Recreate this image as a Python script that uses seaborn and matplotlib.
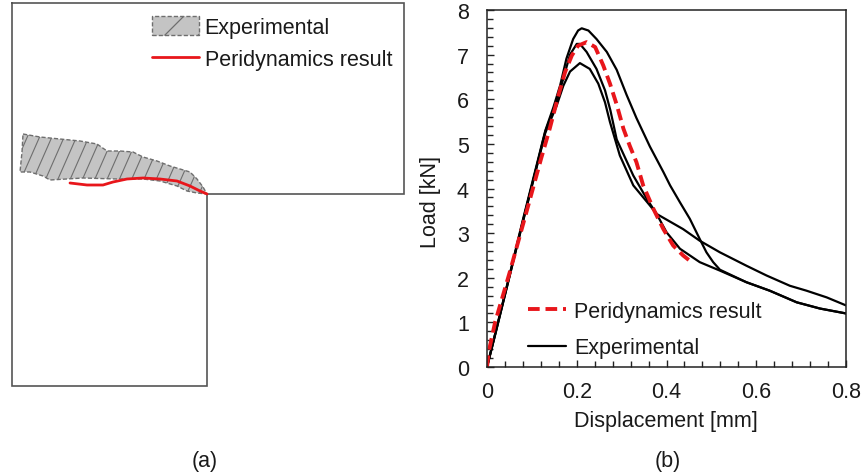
import numpy as np
import pandas as pd
import matplotlib
matplotlib.use("Agg")
import matplotlib.pyplot as plt
from matplotlib.patches import Patch, Polygon
from matplotlib.lines import Line2D
from matplotlib.ticker import MultipleLocator, FuncFormatter
import seaborn as sns

# ---------------- data: panel (b) load-displacement ----------------
exp_a_disp = [0, .02, .05, .08, .11, .13, .148, .163, .177, .192, .203, .211, .226, .244,
              .267, .289, .311, .333, .363, .393, .408, .43, .452, .474, .489, .504, .519,
              .578, .63, .69, .742, .8]
exp_a_load = [0, .82, 2.05, 3.3, 4.5, 5.3, 5.82, 6.31, 6.91, 7.35, 7.54, 7.59, 7.54, 7.35,
              7.06, 6.66, 6.1, 5.58, 4.94, 4.37, 4.07, 3.69, 3.32, 2.87, 2.57, 2.35, 2.18,
              1.9, 1.71, 1.45, 1.31, 1.2]

exp_b_disp = [0, .02, .05, .08, .11, .13, .155, .17, .185, .2, .207, .222, .244, .263,
              .275, .289, .326, .356, .378, .4, .43, .474, .519, .578, .63, .69, .742, .8]
exp_b_load = [0, .8, 2.03, 3.27, 4.47, 5.28, 5.95, 6.46, 7.0, 7.24, 7.24, 7.06, 6.68, 6.2,
              5.75, 5.1, 4.29, 3.77, 3.43, 3.02, 2.65, 2.35, 2.16, 1.9, 1.71, 1.45, 1.31, 1.2]

exp_c_disp = [0, .02, .05, .08, .11, .13, .155, .17, .185, .207, .229, .248, .263, .274,
              .296, .326, .363, .378, .437, .474, .519, .578, .623, .675, .712, .757, .8]
exp_c_load = [0, .8, 2.02, 3.25, 4.45, 5.25, 5.85, 6.3, 6.62, 6.81, 6.68, 6.35, 5.93, 5.49,
              4.74, 4.07, 3.62, 3.43, 3.09, 2.83, 2.57, 2.27, 2.05, 1.82, 1.71, 1.56, 1.38]

pd_disp = [0, .004, .018, .05, .09, .12, .14, .159, .174, .189, .203, .222, .241, .259,
           .274, .289, .304, .318, .333, .348, .371, .393, .415, .437, .452, .456]
pd_load = [0, .35, 1.0, 2.1, 3.55, 4.65, 5.35, 6.08, 6.61, 6.98, 7.2, 7.28, 7.17, 6.76,
           6.35, 5.88, 5.34, 4.96, 4.59, 4.07, 3.54, 3.09, 2.72, 2.5, 2.38, 2.33]

x_ticks = [0, 0.2, 0.4, 0.6, 0.8]
y_ticks = [0, 1, 2, 3, 4, 5, 6, 7, 8]

# ---------------- data: panel (a) specimen sketch (pixel units) ----------------
outline_x = [12, 404, 404, 207, 207, 12, 12]
outline_y = [4, 4, 195, 195, 387, 387, 4]
crack_x = [23, 40, 60, 80, 97, 107, 120, 133, 143, 157, 170, 180, 190, 197, 203, 207,
           197, 187, 177, 160, 143, 117, 83, 50, 43, 30, 20, 22]
crack_y = [135, 138, 140, 142, 145, 152, 152, 153, 158, 162, 167, 170, 173, 180, 188, 195,
           194, 192, 187, 182, 180, 180, 179, 181, 177, 173, 173, 153]
pdpath_x = [70, 87, 103, 113, 127, 143, 160, 177, 190, 200, 207]
pdpath_y = [184, 186, 186, 183, 180, 179, 180, 182, 187, 192, 195]

labels_legend = ["Peridynamics result", "Experimental"]

# ---------------- style ----------------
sns.set_style("white")
plt.rcParams["font.family"] = ["Liberation Sans", "DejaVu Sans"]
plt.rcParams["hatch.linewidth"] = 0.9
TXT = "#1a1a1a"
RED = "#e8161b"
GRAY_EDGE = "#6e6e6e"
FILL = "#c4c4c4"
FS = 15.5

fig = plt.figure(figsize=(8.62, 4.77), dpi=100)

# ---------- panel (a) ----------
axa = fig.add_axes([0, 0, 420 / 862, 1])
axa.set_xlim(0, 420)
axa.set_ylim(477, 0)
axa.axis("off")
axa.plot(outline_x, outline_y, color="#555555", lw=1.2, solid_joinstyle="miter")
poly = Polygon(np.column_stack([crack_x, crack_y]), closed=True, facecolor=FILL,
               edgecolor="none")
axa.add_patch(poly)
# slanted hatch strokes clipped to the crack region
for c in np.arange(0, 240, 12.3):
    hl, = axa.plot([c, c + 0.44 * 90], [200, 110], color=GRAY_EDGE, lw=0.8)
    hl.set_clip_path(poly)
axa.add_patch(Polygon(np.column_stack([crack_x, crack_y]), closed=True,
                      facecolor="none", edgecolor=GRAY_EDGE,
                      linestyle=(0, (3, 1.5)), lw=1.0))
sns.lineplot(x=pdpath_x, y=pdpath_y, sort=False, estimator=None, color=RED, lw=2,
             ax=axa)
hpatch = Patch(facecolor=FILL, edgecolor=GRAY_EDGE, hatch="/",
               linestyle=(0, (3, 1.5)), lw=1.0)
hline = Line2D([], [], color=RED, lw=2)
leg_a = axa.legend(handles=[hpatch, hline], labels=["Experimental", "Peridynamics result"],
                   loc="upper left", bbox_to_anchor=(152 / 420, 1 - 17 / 477),
                   frameon=False, fontsize=FS, handlelength=2.2, handleheight=0.95,
                   handletextpad=0.25, labelspacing=0.5, borderaxespad=0, borderpad=0)
for t in leg_a.get_texts():
    t.set_color(TXT)

# ---------- panel (b) ----------
axb = fig.add_axes([487 / 862, 1 - 368 / 477, 359 / 862, 357 / 477])
frames = []
for name, xs, ys in [("A", exp_a_disp, exp_a_load), ("B", exp_b_disp, exp_b_load),
                     ("C", exp_c_disp, exp_c_load)]:
    frames.append(pd.DataFrame({"disp": xs, "load": ys, "specimen": name}))
exp_df = pd.concat(frames, ignore_index=True)
sns.lineplot(data=exp_df, x="disp", y="load", units="specimen", estimator=None,
             sort=False, color="black", lw=1.6, ax=axb, legend=False)
sns.lineplot(x=pd_disp, y=pd_load, sort=False, estimator=None, color=RED, lw=2.8,
             ax=axb)
axb.lines[-1].set_linestyle((0, (3, 1.5)))

axb.set_xlim(0, 0.8)
axb.set_ylim(0, 8)
axb.set_xticks(x_ticks)
axb.set_yticks(y_ticks)
axb.xaxis.set_minor_locator(MultipleLocator(0.04))
axb.yaxis.set_minor_locator(MultipleLocator(0.2))
axb.xaxis.set_major_formatter(FuncFormatter(lambda v, p: f"{v:g}"))
axb.tick_params(axis="both", which="both", direction="in", colors="#222222",
                labelcolor=TXT, labelsize=FS, width=1.0, top=False, right=False,
                bottom=True, left=True)
axb.tick_params(axis="both", which="major", length=5)
axb.tick_params(axis="both", which="minor", length=4)
axb.tick_params(axis="x", which="major", pad=10)
axb.tick_params(axis="y", which="major", pad=13)
for sp in axb.spines.values():
    sp.set_color("#222222")
    sp.set_linewidth(1.1)
axb.set_xlabel("Displacement [mm]", fontsize=FS, color=TXT)
axb.set_ylabel("Load [kN]", fontsize=FS, color=TXT)
axb.xaxis.set_label_coords(0.4986, -0.12)
axb.yaxis.set_label_coords(-0.128, 0.465)

leg_b = axb.legend(handles=[Line2D([], [], color=RED, lw=2.8, linestyle=(0, (3, 1.5))),
                            Line2D([], [], color="black", lw=1.6)],
                   labels=labels_legend, loc="upper left",
                   bbox_to_anchor=((528 - 487) / 359, (368 - 302) / 357),
                   frameon=False, fontsize=FS, handlelength=1.75, handletextpad=0.4,
                   labelspacing=0.7, borderaxespad=0, borderpad=0)
for t in leg_b.get_texts():
    t.set_color(TXT)

fig.text(205 / 862, 1 - 462 / 477, "(a)", fontsize=FS, color=TXT, ha="center", va="center")
fig.text(668 / 862, 1 - 462 / 477, "(b)", fontsize=FS, color=TXT, ha="center", va="center")

fig.savefig("out.png", dpi=100, facecolor="white")
